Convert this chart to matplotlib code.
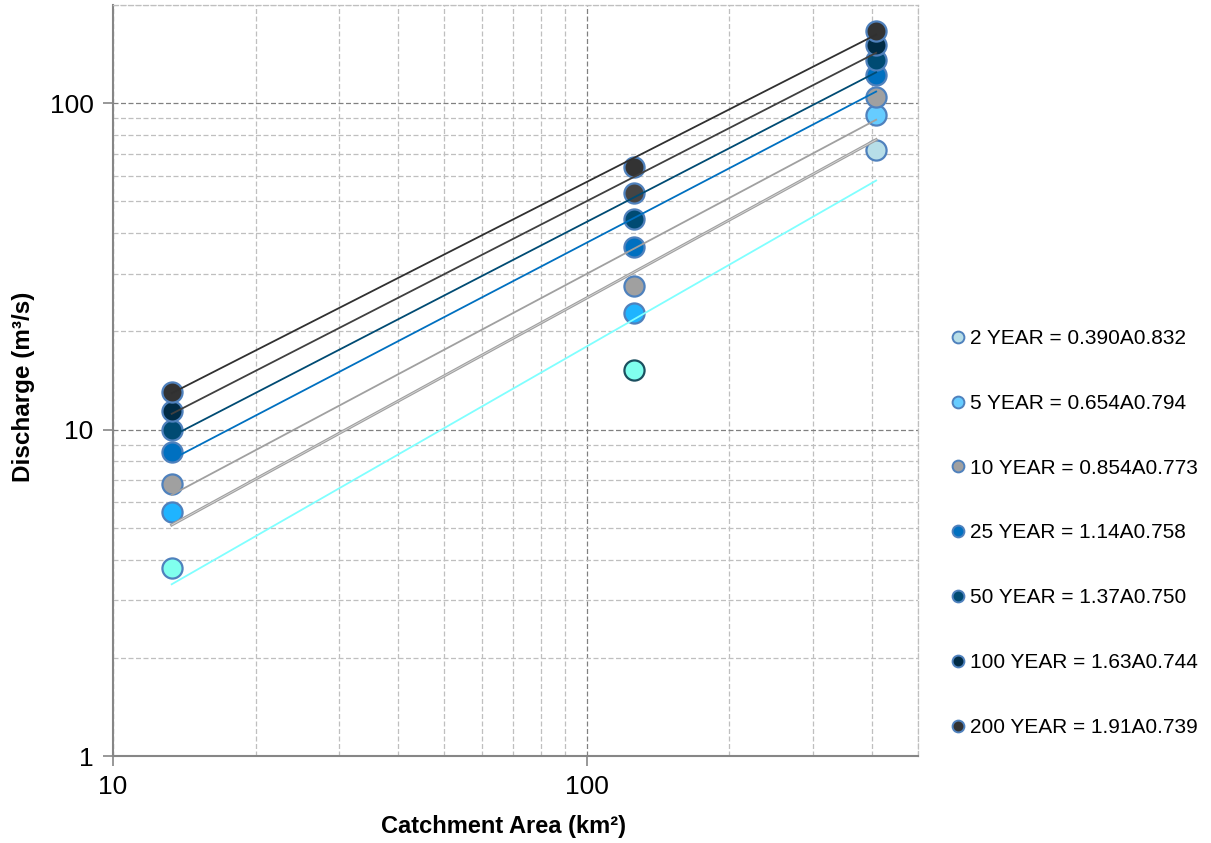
import matplotlib
matplotlib.use("Agg")
import matplotlib.pyplot as plt
import numpy as np

plt.rcParams['font.family'] = ['Liberation Sans', 'DejaVu Sans']

# catchment areas (km2) of the three gauged points
area = [13.3, 125.7, 408.0]

# observed discharges (m3/s) per return period
q2 = [3.77, 15.2, 71.7]
q5 = [5.6, 22.7, 91.9]
q10 = [6.83, 27.5, 104.3]
q25 = [8.56, 36.2, 121.8]
q50 = [10.0, 44.1, 135.5]
q100 = [11.4, 53.0, 150.7]
q200 = [13.0, 63.6, 166.0]

periods = ["2", "5", "10", "25", "50", "100", "200"]
coef_a = [0.390, 0.654, 0.854, 1.14, 1.37, 1.63, 1.91]
coef_b = [0.832, 0.794, 0.773, 0.758, 0.750, 0.744, 0.739]
series = [q2, q5, q10, q25, q50, q100, q200]

# styles
leg_face = ['#B7DEE8', '#66CCFF', '#A0A0A0', '#0070C0', '#004B73', '#002B45', '#333333']
pt_face = [['#80FFEE', '#80FFEE', '#B7DEE8'],
           ['#1FB4FF', '#1FB4FF', '#66CCFF'],
           ['#A0A0A0', '#A0A0A0', '#A0A0A0'],
           ['#0070C0', '#0070C0', '#0070C0'],
           ['#004B73', '#004B73', '#004B73'],
           ['#002B45', '#444444', '#002B45'],
           ['#333333', '#333333', '#333333']]
pt_edge = [['#4F81BD', '#1B4F5F', '#4F81BD']] + [['#4F81BD'] * 3] * 6
line_col = ['#80FFFF', '#A0A0A0', '#A0A0A0', '#0070C0', '#004B73', '#404040', '#303030']

fig = plt.figure(figsize=(12.11, 8.43), dpi=100)
ax = fig.add_axes([113/1211, 1-756/843, (918-113)/1211, (756-5)/843])
ax.set_xscale('log')
ax.set_yscale('log')
ax.set_xlim(10, 500)
ax.set_ylim(1, 200)

xfit = np.linspace(area[0], area[-1], 200)
handles = []
for i in range(7):
    for j in range(3):
        ax.plot(area[j], series[i][j], 'o', ms=14.5, mfc=pt_face[i][j],
                mec=pt_edge[i][j], mew=1.6, zorder=3)
    yfit = coef_a[i] * xfit ** coef_b[i]
    if periods[i] == "5":
        ax.plot(xfit, yfit, color='#A0A0A0', lw=2.2, zorder=4)
        ax.plot(xfit, yfit, color='#D8D8D8', lw=0.6, zorder=4)
    else:
        ax.plot(xfit, yfit, color=line_col[i], lw=1.3, zorder=4)
    h, = ax.plot([], [], 'o', ms=8.5, mfc=leg_face[i], mec='#4F81BD', mew=1.4)
    handles.append(h)

labels = [p + " YEAR = " + (("%.3f" % a) if a < 1 else ("%.2f" % a)) + "A" + ("%.3f" % b)
          for p, a, b in zip(periods, coef_a, coef_b)]

ax.grid(True, which='major', color='#808080', ls=(0, (4, 2)), lw=0.9)
ax.grid(True, which='minor', color='#BFBFBF', ls=(0, (4, 2)), lw=0.9)
ax.set_axisbelow(True)

for s in ['left', 'bottom']:
    ax.spines[s].set_color('#868686')
    ax.spines[s].set_linewidth(1.5)
for s in ['top', 'right']:
    ax.spines[s].set_color('#BFBFBF')
    ax.spines[s].set_linestyle((0, (4, 2)))
    ax.spines[s].set_linewidth(0.9)

ax.set_xticks([10, 100])
ax.set_xticklabels(['10', '100'])
ax.set_yticks([1, 10, 100])
ax.set_yticklabels(['1', '10', '100'])
ax.tick_params(which='major', length=7, width=1.2, color='#868686', labelsize=19, pad=7)
ax.tick_params(which='minor', length=0)

ax.set_xlabel('Catchment Area (km²)', fontsize=17, fontweight='bold')
ax.set_ylabel('Discharge (m³/s)', fontsize=17.5, fontweight='bold')
ax.xaxis.set_label_coords(0.4845, -0.078)
ax.yaxis.set_label_coords(-0.097, 0.491)

fig.legend(handles, labels, loc='upper left', bbox_to_anchor=(952/1211, 1-329/843),
           frameon=False, fontsize=15, labelspacing=2.2, handlelength=0.6,
           handletextpad=0.25, borderpad=0, borderaxespad=0)

fig.savefig('out.png', dpi=100)
